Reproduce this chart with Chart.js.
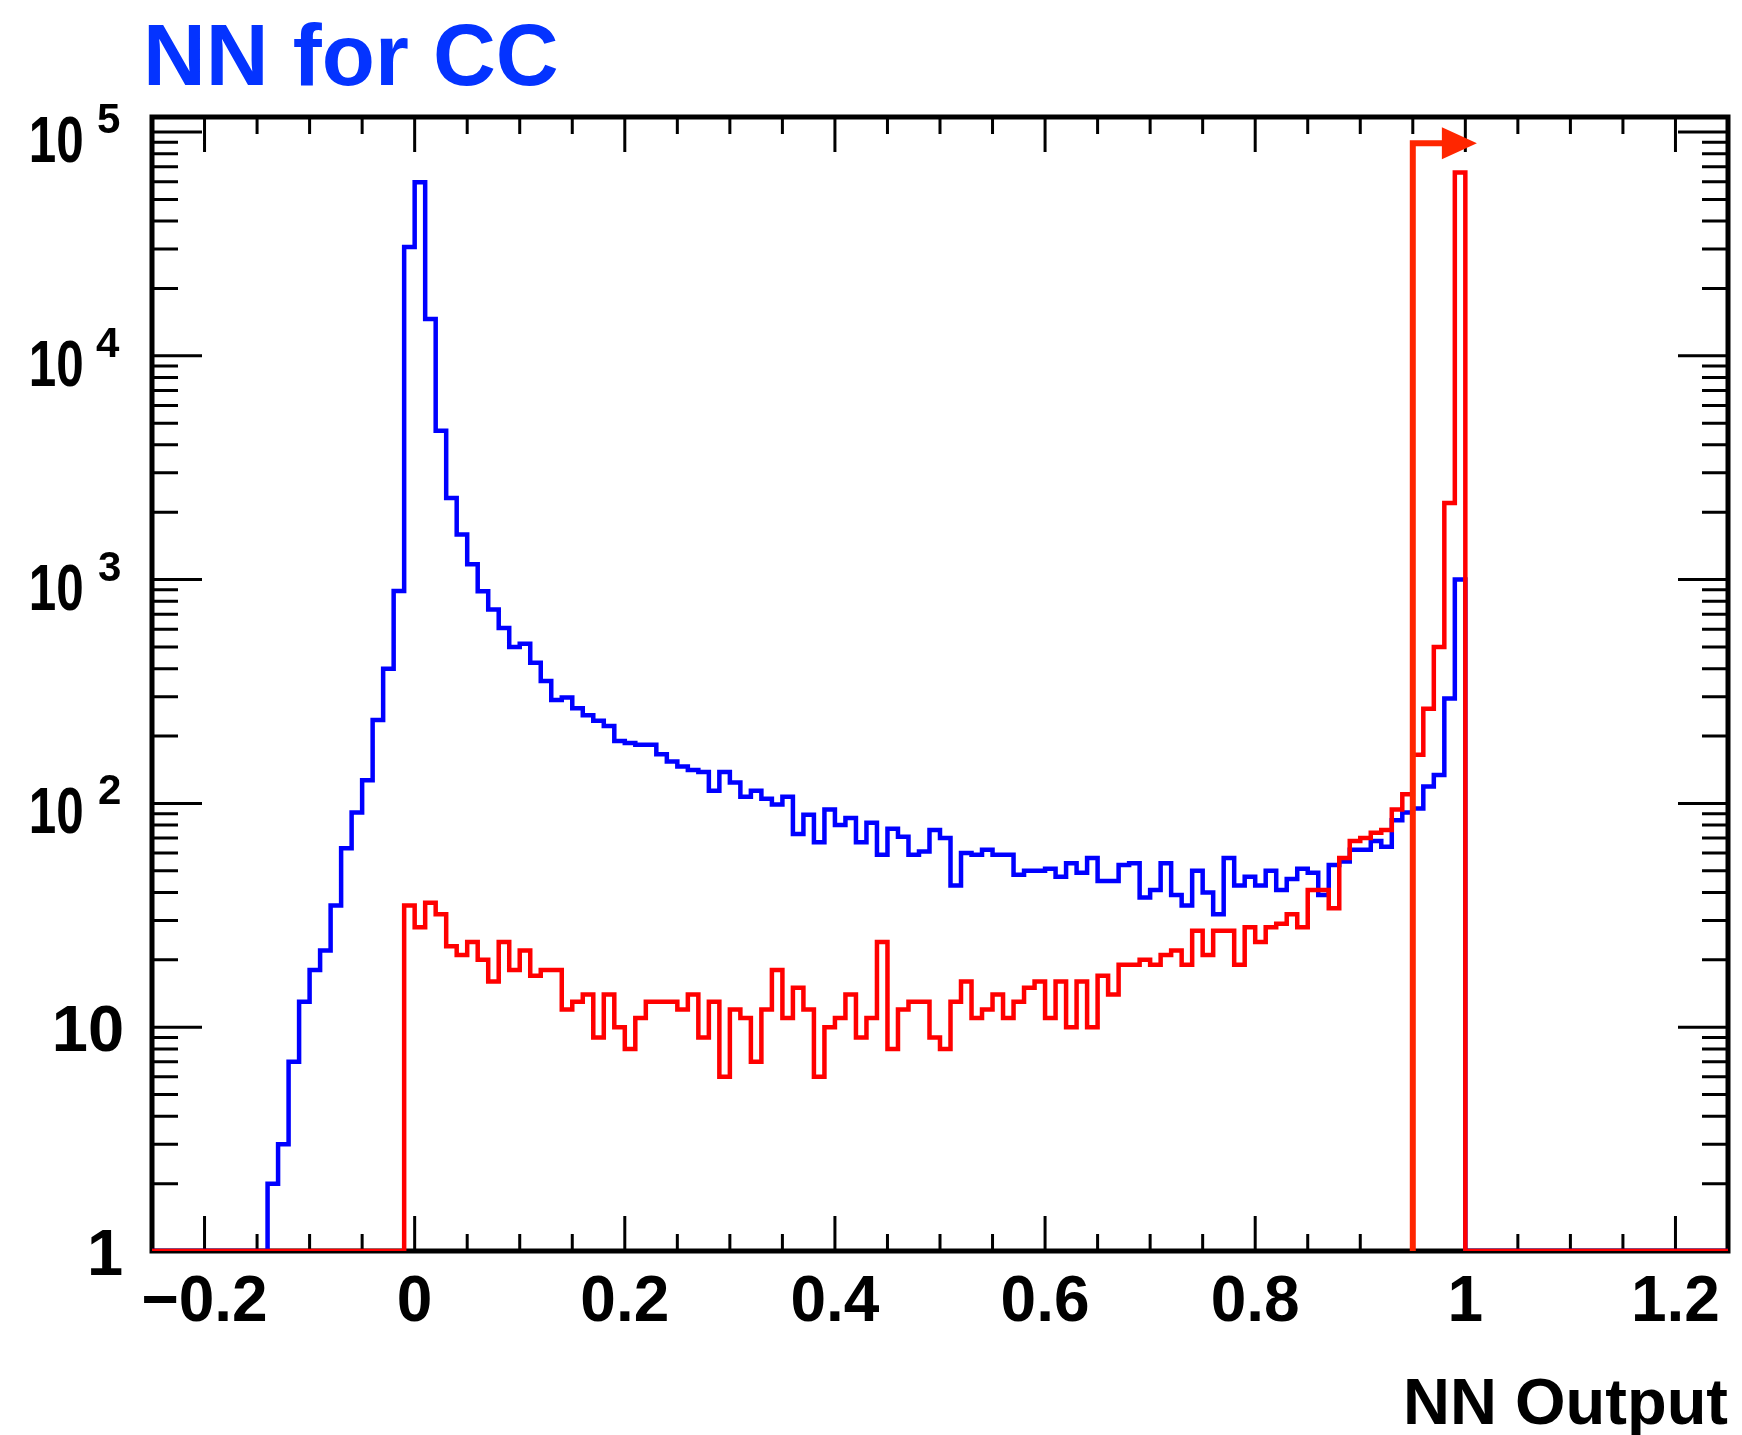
<!DOCTYPE html>
<html>
<head>
<meta charset="utf-8">
<title>NN for CC</title>
<script src="https://cdn.jsdelivr.net/npm/chart.js@4.4.1/dist/chart.umd.min.js"></script>
<style>
  html, body { margin: 0; padding: 0; background: #fff; }
  canvas { display: block; }
</style>
</head>
<body>
<canvas id="nnChart" width="1742" height="1435"></canvas>
<script>
// 150 bins of width 0.01 from -0.25 to 1.25
const binStart = -0.25;
const binWidth = 0.01;

// blue histogram, counts per bin (left edge -0.25 ... 1.24)
const blueCounts = [
  0, 0, 0, 0, 0, 0, 0, 0, 0, 0,
  0, 2, 3, 7, 13, 18, 22, 35, 63, 91,
  127, 236, 400, 890, 30600, 59600, 14600, 4620, 2315, 1590,
  1170, 886, 736, 608, 500, 517, 425, 352, 290, 297,
  266, 248, 234, 222, 190, 186, 183, 183, 166, 154,
  146, 141, 138, 114, 138, 124, 107, 114, 105, 99,
  107, 73, 89, 67, 94, 80, 86, 67, 82, 59,
  77, 71, 59, 61, 76, 70, 43, 60, 59, 62,
  59, 59, 48, 50, 50, 51, 47, 54, 49, 57,
  45, 45, 53, 54, 38, 41, 54, 39, 35, 50,
  40, 32, 57, 43, 47, 43, 50, 41, 46, 51,
  49, 39, 53, 55, 62, 62, 68, 64, 84, 91,
  95, 119, 134, 294, 1000, 0, 0, 0, 0, 0,
  0, 0, 0, 0, 0, 0, 0, 0, 0, 0,
  0, 0, 0, 0, 0, 0, 0, 0, 0, 0
];

// red histogram, counts per bin
const redCounts = [
  0, 0, 0, 0, 0, 0, 0, 0, 0, 0,
  0, 0, 0, 0, 0, 0, 0, 0, 0, 0,
  0, 0, 0, 0, 35, 28, 36, 32, 23, 21,
  24, 20, 16, 24, 18, 22, 17, 18, 18, 12,
  13, 14, 9, 14, 10, 8, 11, 13, 13, 13,
  12, 14, 9, 13, 6, 12, 11, 7, 12, 18,
  11, 15, 12, 6, 10, 11, 14, 9, 11, 24,
  8, 12, 13, 13, 9, 8, 13, 16, 11, 12,
  14, 11, 13, 15, 16, 11, 16, 10, 16, 10,
  17, 14, 19, 19, 20, 19, 21, 22, 19, 27,
  21, 27, 27, 19, 28, 24, 28, 29, 32, 28,
  41, 41, 34, 57, 68, 70, 74, 76, 94, 110,
  165, 265, 500, 2200, 66000, 0, 0, 0, 0, 0,
  0, 0, 0, 0, 0, 0, 0, 0, 0, 0,
  0, 0, 0, 0, 0, 0, 0, 0, 0, 0
];

const xMin = -0.25, xMax = 1.25;
const yMin = 1, yMax = 1.167e5;
const xTickValues = [-0.2, 0, 0.2, 0.4, 0.6, 0.8, 1, 1.2];
const xTickLabels = ['\u22120.2', '0', '0.2', '0.4', '0.6', '0.8', '1', '1.2'];
const yTickValues = [1, 10, 100, 1000, 10000, 100000];
const yTickBases = ['1', '10', '10', '10', '10', '10'];
const yTickExps = ['', '', '2', '3', '4', '5'];

// cut marker with arrow
const cutValue = 0.95;
const cutArrowY = 8.9e4;
const cutArrowTip = 1.011;

const FONT = '"Liberation Sans", Helvetica, Arial, sans-serif';

// empty bins sit on the bottom of the log axis
function histPoints(counts) {
  const pts = counts.map((c, i) => ({ x: binStart + i * binWidth, y: Math.max(c, yMin) }));
  pts.push({ x: binStart + counts.length * binWidth, y: Math.max(counts[counts.length - 1], yMin) });
  return pts;
}

// frame + inward ticks on all four sides (ROOT style)
const frameTicks = {
  id: 'frameTicks',
  beforeDatasetsDraw(chart) {
    const { ctx, chartArea: a, scales: { x, y } } = chart;
    ctx.save();
    ctx.strokeStyle = '#000';
    ctx.lineWidth = 3;
    ctx.beginPath();
    for (let k = -5; k <= 25; k++) {
      const px = x.getPixelForValue(k * 0.05);
      if (px <= a.left + 3 || px >= a.right - 3) continue;
      const len = k % 4 === 0 ? 35 : 17;
      ctx.moveTo(px, a.bottom); ctx.lineTo(px, a.bottom - len);
      ctx.moveTo(px, a.top); ctx.lineTo(px, a.top + len);
    }
    for (let e = 0; e <= 5; e++) {
      for (let m = 1; m <= 9; m++) {
        const v = m * Math.pow(10, e);
        if (v > yMax) continue;
        const py = y.getPixelForValue(v);
        if (py >= a.bottom - 3 || py <= a.top + 3) continue;
        const len = m === 1 ? 50 : 26;
        ctx.moveTo(a.left, py); ctx.lineTo(a.left + len, py);
        ctx.moveTo(a.right, py); ctx.lineTo(a.right - len, py);
      }
    }
    ctx.stroke();
    ctx.lineWidth = 5;
    ctx.strokeRect(a.left, a.top, a.right - a.left, a.bottom - a.top);
    ctx.restore();
  },
  afterDraw(chart) {
    const { ctx, scales: { y } } = chart;
    ctx.save();
    ctx.fillStyle = '#000';
    ctx.textAlign = 'left';
    ctx.textBaseline = 'alphabetic';
    yTickValues.forEach((v, i) => {
      const py = y.getPixelForValue(v);
      const base = yTickBases[i], exp = yTickExps[i];
      ctx.font = 'bold 65px ' + FONT;
      const m = ctx.measureText(base);
      if (!exp) {
        ctx.fillText(base, 122 - m.actualBoundingBoxRight, py + 24);
      } else {
        // the mantissa of the power labels is set narrower, as in the original
        ctx.save();
        ctx.translate(82, py + 30);
        ctx.scale(0.76, 1);
        ctx.fillText(base, -m.actualBoundingBoxRight, 0);
        ctx.restore();
        ctx.font = 'bold 42px ' + FONT;
        const ms = ctx.measureText(exp);
        ctx.fillText(exp, 120 - ms.actualBoundingBoxRight, py + 1);
      }
    });
    ctx.restore();
  },
  afterDatasetsDraw(chart) {
    const { ctx, scales: { x, y } } = chart;
    const px = x.getPixelForValue(cutValue);
    const top = y.getPixelForValue(cutArrowY);
    const bottom = y.getPixelForValue(yMin);
    const tip = x.getPixelForValue(cutArrowTip);
    ctx.save();
    ctx.strokeStyle = '#ff2600';
    ctx.fillStyle = '#ff2600';
    ctx.lineWidth = 6;
    ctx.lineJoin = 'miter';
    ctx.beginPath();
    ctx.moveTo(px, bottom);
    ctx.lineTo(px, top);
    ctx.lineTo(tip - 30, top);
    ctx.stroke();
    ctx.beginPath();
    ctx.moveTo(tip - 35, top - 16);
    ctx.lineTo(tip, top);
    ctx.lineTo(tip - 35, top + 16);
    ctx.closePath();
    ctx.fill();
    ctx.restore();
  }
};

const ctx = document.getElementById('nnChart').getContext('2d');
const nnChart = new Chart(ctx, {
  type: 'line',
  data: {
    datasets: [
      {
        label: 'red',
        data: histPoints(redCounts),
        borderColor: '#ff0000',
        borderWidth: 4.5,
        stepped: true,
        pointRadius: 0,
        fill: false
      },
      {
        label: 'blue',
        data: histPoints(blueCounts),
        borderColor: '#0000ff',
        borderWidth: 4.5,
        stepped: true,
        pointRadius: 0,
        fill: false
      }
    ]
  },
  options: {
    responsive: false,
    devicePixelRatio: 1,
    animation: false,
    layout: { padding: { left: 143, right: 14, top: 0, bottom: 0 } },
    elements: { line: { borderJoinStyle: 'miter', borderCapStyle: 'butt', tension: 0 } },
    plugins: {
      legend: { display: false },
      tooltip: { enabled: false },
      title: {
        display: true,
        text: 'NN for CC',
        align: 'start',
        color: '#0433ff',
        font: { family: FONT, weight: 'bold', size: 87, lineHeight: 1.2 },
        padding: { top: 9, bottom: 3.6 }
      }
    },
    scales: {
      x: {
        type: 'linear',
        min: xMin,
        max: xMax,
        afterBuildTicks: s => { s.ticks = xTickValues.map(v => ({ value: v })); },
        afterFit: s => { s.height = 184; },
        ticks: {
          autoSkip: false,
          maxRotation: 0,
          padding: 14,
          color: '#000',
          font: { family: FONT, weight: 'bold', size: 64 },
          callback: (v, i) => xTickLabels[i]
        },
        grid: { display: false, drawTicks: false },
        border: { display: false },
        title: {
          display: true,
          text: 'NN Output',
          align: 'end',
          color: '#000',
          font: { family: FONT, weight: 'bold', size: 65, lineHeight: 0.72 },
          padding: { top: 0, bottom: 6 }
        }
      },
      y: {
        type: 'logarithmic',
        min: yMin,
        max: yMax,
        afterFit: s => { s.width = 9; },
        ticks: { display: false },
        grid: { display: false, drawTicks: false },
        border: { display: false }
      }
    }
  },
  plugins: [frameTicks]
});
</script>
</body>
</html>
